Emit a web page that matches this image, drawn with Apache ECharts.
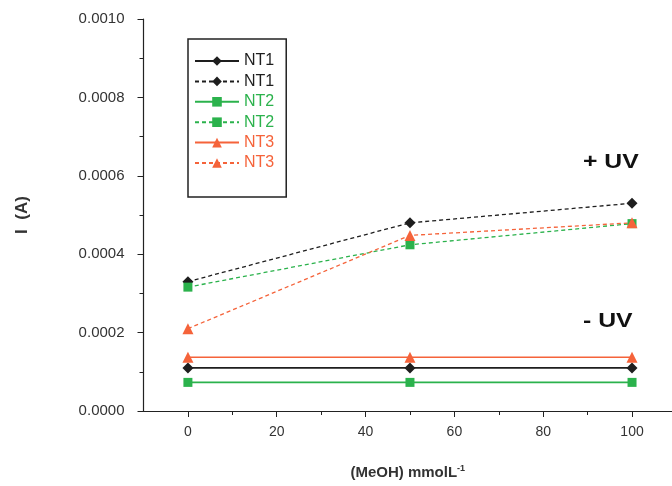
<!DOCTYPE html>
<html><head><meta charset="utf-8">
<script src="https://cdn.jsdelivr.net/npm/echarts@6/dist/echarts.min.js"></script>
<style>html,body{margin:0;padding:0;background:#fff}#c{width:672px;height:486px}</style>
</head><body><div id="c"></div>
<script>
const xValues = [0, 50, 100];
const nt1Dark = [0.00011, 0.00011, 0.00011];
const nt1UV = [0.00033, 0.00048, 0.00053];
const nt2Dark = [0.000073, 0.000073, 0.000073];
const nt2UV = [0.000316, 0.000424, 0.000478];
const nt3Dark = [0.000137, 0.000137, 0.000137];
const nt3UV = [0.00021, 0.000448, 0.00048];
const xMajorTicks = [0, 20, 40, 60, 80, 100];
const xMinorTicks = [10, 30, 50, 70, 90];
const legendLabels = ['NT1', 'NT1', 'NT2', 'NT2', 'NT3', 'NT3'];

const BLACK = '#1e1e1e', GREEN = '#2bb24c', RED = '#f5633a';
const FONT = 'Liberation Sans, Arial, sans-serif';
const pairs = d => d.map((v, i) => [xValues[i], v]);
function mk(id, data, color, symbol, size, dashed) {
  return {
    id: id, name: id, type: 'line', data: pairs(data), xAxisIndex: 0,
    symbol: symbol, symbolSize: size,
    itemStyle: { color: color },
    lineStyle: { color: color, width: dashed ? 1.3 : 1.6, type: dashed ? [4, 3] : 'solid' },
    z: dashed ? 3 : 2
  };
}
const series = [
  mk('s1', nt1Dark, BLACK, 'diamond', 11, false),
  mk('s2', nt1UV, BLACK, 'diamond', 11, true),
  mk('s3', nt2Dark, GREEN, 'rect', 9, false),
  mk('s4', nt2UV, GREEN, 'rect', 9, true),
  mk('s5', nt3Dark, RED, 'triangle', 11, false),
  mk('s6', nt3UV, RED, 'triangle', 11, true)
];
const colors = [BLACK, BLACK, GREEN, GREEN, RED, RED];
const chart = echarts.init(document.getElementById('c'));
chart.setOption({
  animation: false,
  backgroundColor: '#fff',
  grid: { left: 143.5, right: 0, top: 19, bottom: 75, containLabel: false },
  legend: {
    orient: 'vertical', left: 188, top: 39,
    padding: [14, 12, 26, 6],
    borderColor: '#222', borderWidth: 1.5,
    itemWidth: 44, itemHeight: 12, itemGap: 4.4,
    data: series.map((s, i) => ({ name: s.name, textStyle: { color: colors[i] } })),
    formatter: n => legendLabels[series.findIndex(s => s.name === n)],
    textStyle: { fontFamily: FONT, fontSize: 16 }
  },
  xAxis: [{
    type: 'value', min: -10, max: 109,
    axisLine: { lineStyle: { color: '#222', width: 1.2 } },
    axisTick: { customValues: xMajorTicks, length: 6, lineStyle: { color: '#222' } },
    axisLabel: { customValues: xMajorTicks, margin: 14, color: '#333', fontSize: 14, fontFamily: FONT },
    splitLine: { show: false },
    name: '{a|(MeOH) mmolL}{s|-1}', nameLocation: 'middle', nameGap: 53,
    nameTextStyle: { rich: {
      a: { fontSize: 15, fontWeight: 'bold', color: '#333', fontFamily: FONT },
      s: { fontSize: 9, fontWeight: 'bold', color: '#333', fontFamily: FONT, verticalAlign: 'top', padding: [0, 0, 8, 0] }
    } }
  }, {
    type: 'value', min: -10, max: 109, position: 'bottom',
    axisLine: { show: false },
    axisTick: { customValues: xMinorTicks, length: 4, lineStyle: { color: '#222' } },
    axisLabel: { show: false },
    splitLine: { show: false }
  }],
  yAxis: {
    type: 'value', min: 0, max: 0.001, interval: 0.0002,
    axisLine: { show: true, onZero: false, lineStyle: { color: '#222', width: 1.2 } },
    axisTick: { show: true, length: 6, lineStyle: { color: '#222' } },
    minorTick: { show: true, splitNumber: 2, length: 4, lineStyle: { color: '#222' } },
    axisLabel: { formatter: v => v.toFixed(4), margin: 19, color: '#333', fontSize: 15, fontFamily: FONT },
    splitLine: { show: false },
    name: 'I  (A)', nameLocation: 'middle', nameGap: 113, nameRotate: 90,
    nameTextStyle: { fontSize: 17, fontWeight: 'bold', color: '#333', fontFamily: FONT }
  },
  graphic: [
    { type: 'text', left: 583, top: 152, scaleX: 1.18, style: { text: '+ UV', fontSize: 21, fontWeight: 'bold', fill: '#111', fontFamily: FONT } },
    { type: 'text', left: 583, top: 311, scaleX: 1.18, style: { text: '- UV', fontSize: 21, fontWeight: 'bold', fill: '#111', fontFamily: FONT } }
  ],
  series: series
});
</script></body></html>
